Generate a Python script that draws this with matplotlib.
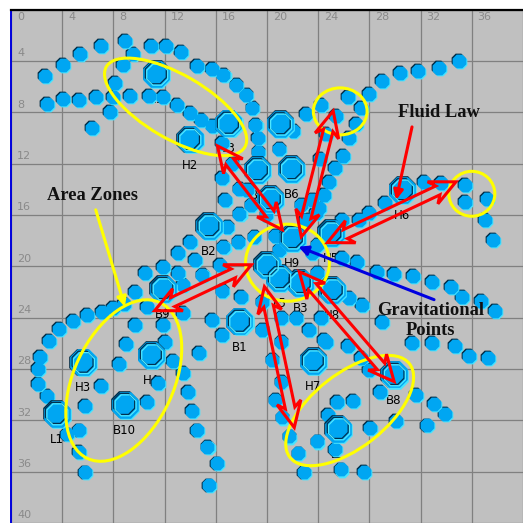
import matplotlib
matplotlib.use('Agg')
import matplotlib.pyplot as plt
import numpy as np
from matplotlib.patches import Ellipse, Polygon
from matplotlib.transforms import ScaledTranslation

# ---------------- data ----------------
grid_ticks = list(range(0, 41, 4))
x_tick_labels = [str(v) for v in range(0, 37, 4)]
y_tick_labels = [str(v) for v in range(4, 41, 4)]

small_x = [2.65, 4.05, 5.38, 7.01, 8.89, 9.51, 10.91, 12.08, 13.25, 8.73, 8.11, 14.5, 15.67, 16.6, 17.61, 18.39, 18.86, 19.1, 19.26, 19.33,
           2.81, 4.05, 5.3, 6.62, 7.95, 9.27, 10.76, 11.85, 12.94, 13.95, 14.81, 15.74, 7.72, 6.31, 16.45, 17.3, 16.45, 16.68, 17.85, 17.85, 18.78, 18.47, 19.95,
           20.97, 22.06, 24.24, 23.07, 25.41, 26.34, 24.63, 24.16,
           35.0, 33.44, 31.8, 30.4, 28.99, 27.98, 27.36, 26.97, 26.42, 25.95, 25.33, 24.86, 24.47, 24.08,
           22.68, 23.54, 23.85, 23.07, 23.93, 20.97, 20.65, 23.54, 23.93,
           25.88, 27.2, 27.98, 29.23, 32.27, 33.59, 35.46, 35.46, 37.18, 37.02, 37.65,
           25.88, 27.05, 28.6, 29.93, 31.41, 32.89, 34.37, 35.23, 36.71, 37.8,
           26.42, 27.44, 28.99, 31.33, 32.89, 34.68, 35.78, 37.26, 26.34, 27.36, 27.98, 28.84, 24.63,
           31.64, 33.05, 33.9, 32.5, 30.09, 28.06, 26.73, 25.49, 24.78, 23.93, 25.33, 25.8, 27.59,
           20.42, 21.12, 20.65, 21.2, 21.75, 22.45, 22.91,
           19.64, 21.12, 22.29, 23.3, 24.24, 24.47, 21.12, 19.64, 17.99, 16.52, 15.67, 16.45, 14.65, 14.96, 13.41, 13.45, 16.29, 17.77, 16.6, 16.91, 19.02,
           13.02, 14.34, 13.95, 11.85, 13.02, 10.44, 9.66, 8.81, 7.95, 7.09, 5.92, 4.83, 3.74, 2.96, 10.6, 9.66, 11.85, 12.0, 8.96,
           2.26, 2.1, 2.1, 2.81, 8.42, 7.01, 5.77, 5.3, 4.36, 5.3, 5.77, 10.6, 11.46, 12.63, 13.41, 13.8, 14.11, 14.5, 15.35, 16.06, 15.43]
small_y = [5.17, 4.31, 3.46, 2.83, 2.44, 3.46, 2.83, 2.83, 3.30, 4.31, 5.71, 4.39, 4.62, 5.09, 5.87, 6.65, 7.66, 8.98, 9.99, 11.08,
           7.35, 6.96, 7.03, 6.8, 6.8, 6.72, 6.72, 6.8, 7.42, 8.05, 8.59, 9.06, 7.97, 9.21, 10.38, 12.02, 13.1, 14.82, 13.96, 15.91, 15.2, 14.04, 15.98,
           10.85, 9.45, 7.42, 8.12, 8.28, 6.8, 9.68, 11.63,
           4.0, 4.54, 4.78, 4.93, 5.56, 6.57, 7.66, 8.9, 9.99, 11.39, 12.33, 13.42, 14.43, 15.44,
           15.2, 14.82, 15.83, 16.37, 18.32, 18.71, 17.62, 18.94, 20.5,
           16.37, 16.37, 15.83, 15.05, 13.42, 13.49, 13.65, 14.97, 14.74, 16.37, 17.93,
           19.33, 19.64, 20.42, 20.58, 20.73, 21.2, 21.59, 22.37, 22.68, 23.45,
           22.44, 22.99, 24.31, 25.95, 25.95, 26.18, 26.96, 27.11, 26.18, 27.11, 28.05, 29.76, 25.87,
           29.99, 30.69, 31.47, 32.4, 32.02, 32.56, 30.46, 30.54, 31.55, 33.65, 34.27, 35.83, 35.99,
           27.27, 28.98, 30.38, 31.78, 33.26, 34.58, 36.06,
           22.75, 24.0, 24.0, 24.93, 24.0, 25.71, 25.87, 24.93, 22.37, 21.9, 24.16, 25.32, 26.73, 20.65, 21.43, 23.61, 19.88, 18.09, 18.48, 16.94, 17.7,
           18.97, 19.49, 18.09, 20.03, 20.5, 20.5, 21.98, 22.91, 23.22, 23.53, 23.77, 24.23, 24.86, 25.79, 23.14, 24.55, 24.55, 25.87, 26.02,
           27.04, 27.97, 29.14, 30.07, 27.58, 29.29, 30.85, 32.79, 33.1, 34.43, 36.06, 30.54, 29.06, 27.35, 28.28, 29.76, 31.24, 32.79, 34.04, 35.36, 37.07]

big_names = ["H1", "L3", "H2", "", "B6", "B4", "", "B2", "H9", "H5", "", "L5", "B3", "H8",
             "H6", "B9", "B1", "H7", "B8", "H4", "H3", "B10", "L1", "L2"]
big_x = [11.36, 16.99, 13.95, 21.04, 21.9, 19.25, 20.26, 15.47, 21.98, 25.0, 20.0, 20.97, 22.6, 25.1,
         30.58, 11.87, 17.85, 23.62, 29.93, 10.97, 5.64, 8.89, 3.56, 25.57]
big_y = [5.01, 8.86, 10.11, 8.9, 12.4, 12.48, 14.74, 16.84, 17.77, 17.39, 19.88, 20.89, 21.27, 21.82,
         14.04, 21.74, 24.29, 27.35, 28.43, 26.88, 27.48, 30.77, 31.47, 32.64]

# yellow zones: (cx, cy, width, height, angle)
zone_cx = [12.86, 25.72, 36.0, 21.6, 8.81, 26.46]
zone_cy = [7.58, 7.93, 14.35, 19.72, 28.9, 31.24]
zone_w = [12.5, 4.2, 3.6, 6.55, 13.4, 11.85]
zone_h = [5.0, 3.66, 3.5, 6.0, 7.8, 5.77]
zone_ang = [30, 0, 0, 0, 115, -38]

# red double arrows: start / end
flow_x0 = [16.13, 22.68, 24.71, 18.78, 19.8, 22.52]
flow_y0 = [10.62, 17.7, 18.16, 19.88, 21.59, 20.42]
flow_x1 = [21.2, 25.17, 34.76, 11.22, 22.13, 29.93]
flow_y1 = [17.15, 7.9, 13.42, 23.46, 32.56, 28.98]

notes = ["Fluid Law", "Area Zones", "Gravitational\nPoints"]
note_x = [33.44, 6.39, 32.75]
note_y = [8.05, 14.51, 24.25]
pointer_from = [(31.33, 9.14), (6.62, 15.6), (33.05, 22.6)]
pointer_to = [(30.09, 14.82), (8.89, 23.14), (22.45, 18.47)]
pointer_color = ["#FF0000", "#FFFF00", "#0000E0"]

# ---------------- figure ----------------
fig = plt.figure(figsize=(5.23, 5.23), dpi=100, facecolor="white")
ax = fig.add_axes([11 / 523, 0, 512 / 523, 513.4 / 523])
ax.set_xlim(0, 39.9)
ax.set_ylim(40, 0)
ax.set_facecolor("#C0C0C0")
ax.set_xticks(grid_ticks)
ax.set_yticks(grid_ticks)
ax.grid(True, color="#808080", lw=0.9)
ax.set_axisbelow(True)
ax.tick_params(length=0, labelbottom=False, labelleft=False, labeltop=False)
for s in ["right", "bottom"]:
    ax.spines[s].set_visible(False)
ax.spines["top"].set_color("black")
ax.spines["top"].set_linewidth(1.6)
ax.spines["left"].set_color("#0000DD")
ax.spines["left"].set_linewidth(1.4)

for v, t in zip(grid_ticks, x_tick_labels):
    ax.text(v + 0.45, 0.6, t, color="#8a8a8a", fontsize=8, ha="left", va="center", zorder=1)
for v, t in zip(grid_ticks[1:], y_tick_labels):
    ax.text(0.47, v - 0.2, t, color="#8a8a8a", fontsize=8, ha="left", va="bottom", zorder=1)

px = 0.008
def shifted(dx, dy):
    return ax.transData + ScaledTranslation(dx, dy, fig.dpi_scale_trans)

def bevel(xs, ys, s, z, big=False):
    ax.scatter(xs, ys, s=s, marker="8", color="#002a44", lw=0, transform=shifted(-px, px), zorder=z)
    ax.scatter(xs, ys, s=s, marker="8", color="#48E4FF", lw=0, transform=shifted(px * 1.3, -px * 1.3), zorder=z)
    ax.scatter(xs, ys, s=s, marker="8", color="#00A6F2", lw=0, zorder=z + 0.01)
    if big:
        ax.scatter(xs, ys, s=s * 0.62, marker="8", facecolors="none", edgecolors="#003050",
                   lw=0.9, transform=shifted(-0.006, 0.006), zorder=z + 0.02)
        ax.scatter(xs, ys, s=s * 0.62, marker="8", facecolors="none", edgecolors="#50E8FF",
                   lw=0.9, transform=shifted(0.008, -0.008), zorder=z + 0.02)

# labels (below the dots)
for n, x, y in zip(big_names, big_x, big_y):
    if n:
        ax.text(x, y + 2.0, n, fontsize=8.5, color="black", ha="center", va="center", zorder=1.5)

bevel(small_x, small_y, 115, 2)
bevel(big_x, big_y, 430, 2.1, big=True)

for cx, cy, w, h, a in zip(zone_cx, zone_cy, zone_w, zone_h, zone_ang):
    ax.add_patch(Ellipse((cx, cy), w, h, angle=a, fill=False, edgecolor="#FFFF00", lw=2.2, zorder=3))

def double_arrow(x0, y0, x1, y1, sw=0.38, hw=0.95, hl=2.0):
    p0 = np.array([x0, y0]); p1 = np.array([x1, y1])
    d = p1 - p0; L = np.hypot(*d); u = d / L; n = np.array([-u[1], u[0]])
    pt = lambda t, s: p0 + u * t + n * s
    b = hl * 0.78
    return [pt(0, 0), pt(hl, hw), pt(b, sw), pt(L - b, sw), pt(L - hl, hw), pt(L, 0),
            pt(L - hl, -hw), pt(L - b, -sw), pt(b, -sw), pt(hl, -hw)]

for x0, y0, x1, y1 in zip(flow_x0, flow_y0, flow_x1, flow_y1):
    ax.add_patch(Polygon(double_arrow(x0, y0, x1, y1), closed=True, facecolor="none",
                         edgecolor="#FF0000", lw=2.2, joinstyle="miter", zorder=4))

for (fx, fy), (tx, ty), c in zip(pointer_from, pointer_to, pointer_color):
    ax.annotate("", xy=(tx, ty), xytext=(fx, fy),
                arrowprops=dict(arrowstyle="-|>", color=c, lw=2.2, mutation_scale=14,
                                shrinkA=0, shrinkB=0), zorder=4)

for t, x, y in zip(notes, note_x, note_y):
    ax.text(x, y, t, fontsize=13.3, fontweight="bold", family="Liberation Serif",
            ha="center", va="center", color="#111111", linespacing=1.25, zorder=5)

fig.savefig("out.png", dpi=100, facecolor="white")
